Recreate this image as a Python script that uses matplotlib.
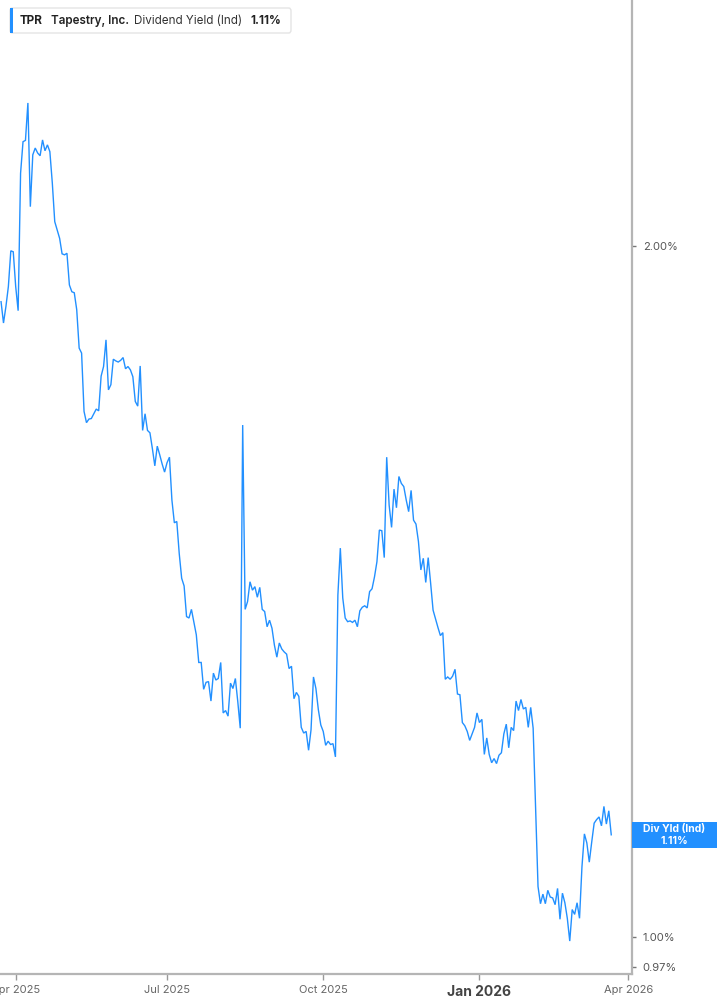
import numpy as np
import pandas as pd
import matplotlib
matplotlib.use("Agg")
import matplotlib.pyplot as plt
from matplotlib.patches import Rectangle, FancyBboxPatch
from matplotlib.ticker import NullLocator, NullFormatter
from pandas.tseries.offsets import CustomBusinessDay

plt.rcParams['font.family'] = ['Inter', 'DejaVu Sans']

# ---------------- data ----------------
start_date = '2025-03-24'
market_holidays = ['2025-04-18', '2025-05-26', '2025-06-19', '2025-07-04', '2025-09-01',
                   '2025-11-27', '2025-12-25', '2026-01-01', '2026-01-19', '2026-02-16',
                   '2026-04-03']

yield_pct = [
    1.891, 1.851, 1.882, 1.920, 1.990, 1.988, 1.920, 1.874, 2.151, 2.220,
    2.223, 2.308, 2.080, 2.191, 2.206, 2.195, 2.189, 2.224, 2.200, 2.213,
    2.198, 2.130, 2.049, 2.032, 2.015, 1.984, 1.982, 1.985, 1.923, 1.910,
    1.908, 1.876, 1.805, 1.796, 1.694, 1.675, 1.681, 1.682, 1.690, 1.698,
    1.695, 1.755, 1.772, 1.820, 1.731, 1.740, 1.785, 1.782, 1.780, 1.783,
    1.788, 1.768, 1.772, 1.766, 1.754, 1.711, 1.703, 1.773, 1.662, 1.690,
    1.662, 1.658, 1.632, 1.604, 1.636, 1.622, 1.607, 1.594, 1.609, 1.618,
    1.550, 1.515, 1.517, 1.469, 1.433, 1.422, 1.379, 1.377, 1.389, 1.371,
    1.354, 1.317, 1.317, 1.282, 1.291, 1.292, 1.267, 1.303, 1.294, 1.296,
    1.317, 1.252, 1.255, 1.248, 1.290, 1.283, 1.296, 1.266, 1.233, 1.671,
    1.389, 1.400, 1.428, 1.416, 1.421, 1.406, 1.420, 1.389, 1.386, 1.365,
    1.374, 1.363, 1.340, 1.324, 1.343, 1.335, 1.331, 1.328, 1.309, 1.312,
    1.270, 1.278, 1.273, 1.234, 1.227, 1.229, 1.206, 1.231, 1.298, 1.283,
    1.256, 1.237, 1.229, 1.212, 1.217, 1.213, 1.214, 1.198, 1.409, 1.477,
    1.405, 1.377, 1.372, 1.373, 1.371, 1.374, 1.365, 1.387, 1.392, 1.394,
    1.391, 1.414, 1.418, 1.435, 1.457, 1.504, 1.503, 1.463, 1.618, 1.542,
    1.508, 1.567, 1.538, 1.587, 1.576, 1.571, 1.550, 1.532, 1.565, 1.519,
    1.513, 1.487, 1.445, 1.462, 1.427, 1.463, 1.426, 1.388, 1.376, 1.364,
    1.353, 1.357, 1.295, 1.298, 1.295, 1.299, 1.308, 1.276, 1.275, 1.240,
    1.236, 1.229, 1.218, 1.226, 1.234, 1.252, 1.240, 1.244, 1.201, 1.221,
    1.201, 1.191, 1.196, 1.190, 1.200, 1.203, 1.226, 1.238, 1.209, 1.234,
    1.230, 1.267, 1.255, 1.269, 1.257, 1.259, 1.234, 1.259, 1.233, 1.138,
    1.052, 1.034, 1.044, 1.034, 1.048, 1.041, 1.040, 1.033, 1.050, 1.018,
    1.045, 1.035, 1.019, 0.996, 1.028, 1.023, 1.035, 1.019, 1.073, 1.109,
    1.099, 1.078, 1.100, 1.121, 1.125, 1.128, 1.118, 1.140, 1.120, 1.135,
    1.108,
]

quarter_dates = ['2025-04-01', '2025-07-01', '2025-10-01', '2026-01-01', '2026-04-01']
quarter_labels = ['Apr 2025', 'Jul 2025', 'Oct 2025', 'Jan 2026', 'Apr 2026']
y_ticks = [0.97, 1.00, 2.00]
y_tick_labels = ['0.97%', '1.00%', '2.00%']

ticker = 'TPR'
company = 'Tapestry, Inc.'
metric = 'Dividend Yield (Ind)'
badge_title = 'Div Yld (Ind)'

# ---------------- drawing ----------------
LINE = '#2290ff'
bday = CustomBusinessDay(holidays=market_holidays)
calendar = pd.date_range(start_date, periods=len(yield_pct) + 15, freq=bday)
x = np.arange(len(yield_pct))
tick_pos = [int(calendar.searchsorted(pd.Timestamp(d))) for d in quarter_dates]

fig = plt.figure(figsize=(7.17, 10.05), dpi=100)
ax = fig.add_axes([0.0, 0.0308, 0.8811, 0.9692])
ax.plot(x, yield_pct, color=LINE, lw=1.0, solid_joinstyle='miter')

ax.set_yscale('log')
ax.set_ylim(0.9636, 2.559)
ax.set_xlim(-0.43, 258.4)

ax.yaxis.tick_right()
ax.set_yticks(y_ticks)
ax.set_yticklabels(y_tick_labels)
ax.yaxis.set_minor_locator(NullLocator())
ax.yaxis.set_minor_formatter(NullFormatter())

ax.set_xticks(tick_pos)
ax.set_xticklabels(quarter_labels)

for s in ['left', 'top']:
    ax.spines[s].set_visible(False)
for s in ['right', 'bottom']:
    ax.spines[s].set_color('#b5b5b5')
    ax.spines[s].set_linewidth(1.6)

ax.tick_params(axis='y', direction='out', length=3, width=1, color='#777',
               labelsize=8, labelcolor='#555', pad=5)
ax.tick_params(axis='x', direction='out', length=4, width=1, color='#999',
               labelsize=8, labelcolor='#666', pad=4)
jan = ax.get_xticklabels()[3]
jan.set_fontweight('bold')
jan.set_fontsize(10)
jan.set_color('#444')

# header box
W, H = 717.0, 1005.0
fig.patches.append(FancyBboxPatch((10 / W, 1 - 33 / H), 281 / W, 25 / H,
                                  boxstyle='round,pad=0,rounding_size=0.003',
                                  transform=fig.transFigure, fc='white', ec='#e4e4e4', lw=1))
fig.patches.append(Rectangle((10 / W, 1 - 33 / H), 3 / W, 25 / H,
                             transform=fig.transFigure, fc=LINE, ec='none'))
yc = 1 - 21 / H
fs = 8.4
fig.text(20 / W, yc, ticker, fontsize=fs, fontweight='bold', color='#222', va='center')
fig.text(51 / W, yc, company, fontsize=fs, fontweight='semibold', color='#222', va='center')
fig.text(134 / W, yc, metric, fontsize=fs, color='#333', va='center')
fig.text(250 / W, yc, f'{yield_pct[-1]:.2f}%', fontsize=fs, fontweight='bold', color='#222', va='center')

# last value badge
fig.canvas.draw()
y_disp = ax.transData.transform((x[-1], yield_pct[-1]))[1]
yf = y_disp / fig.bbox.height
bh = 25.6 / H
fig.patches.append(Rectangle((631.7 / W, yf - bh / 2), 1 - 631.7 / W, bh,
                             transform=fig.transFigure, fc=LINE, ec='none'))
fig.text(674 / W, yf + 6 / H, badge_title, fontsize=7.5, fontweight='bold', color='white',
         ha='center', va='center')
fig.text(674 / W, yf - 6 / H, f'{yield_pct[-1]:.2f}%', fontsize=7.5, fontweight='bold',
         color='white', ha='center', va='center')

fig.savefig('out.png', dpi=100)
